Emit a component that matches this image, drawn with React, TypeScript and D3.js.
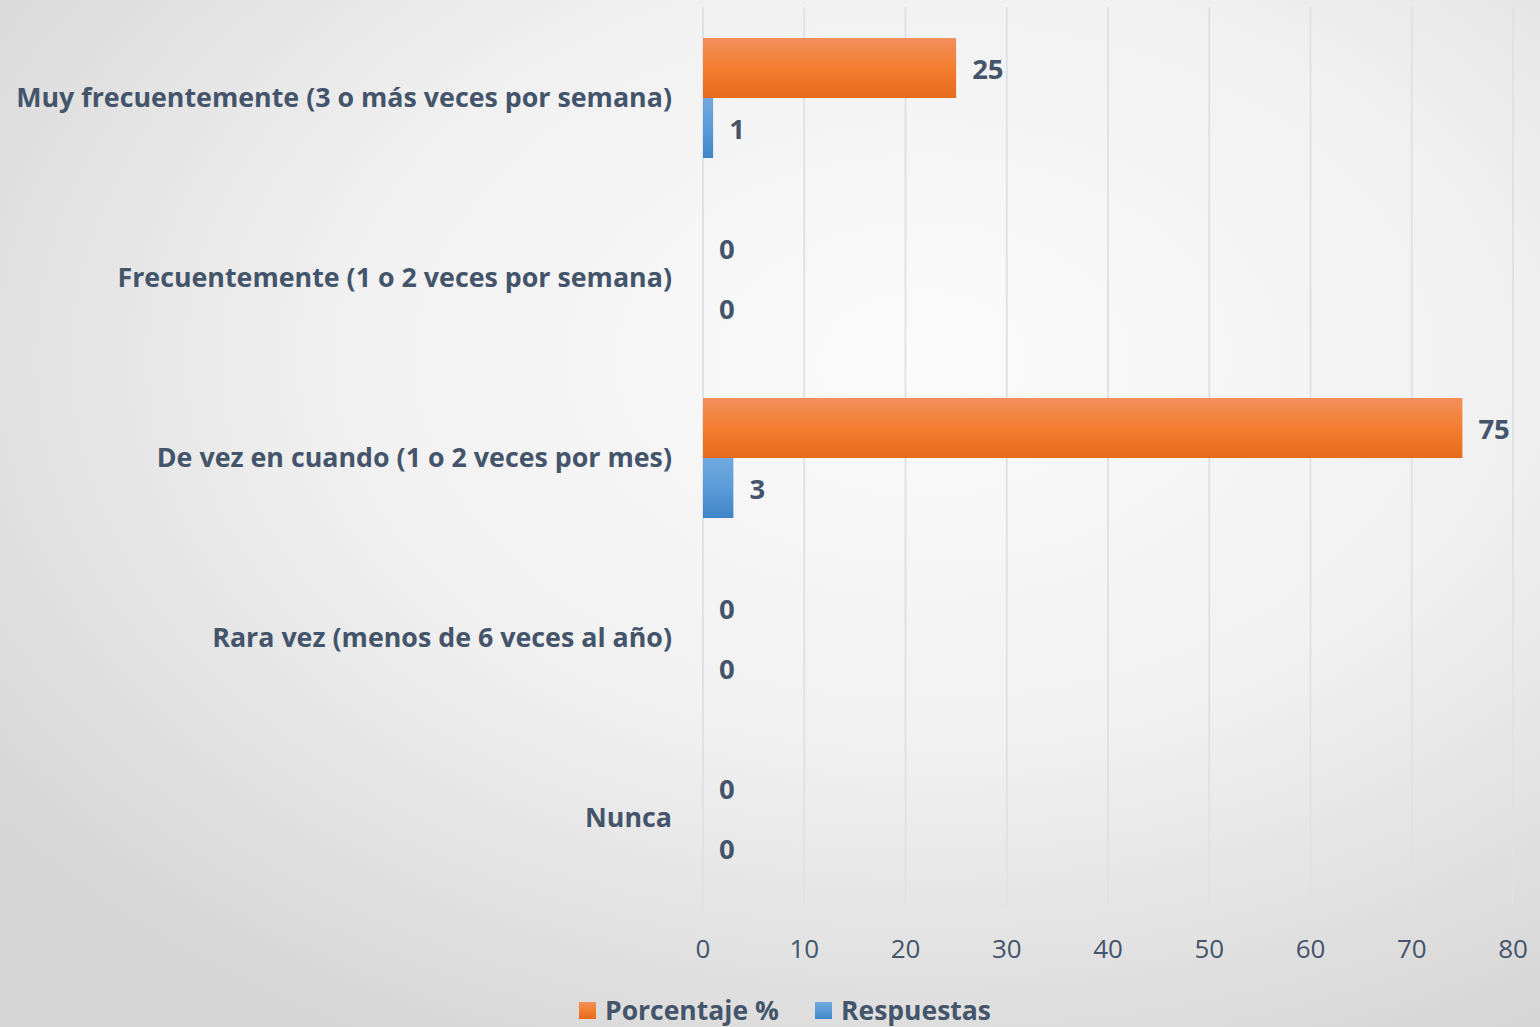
import React from "react";
import * as d3 from "d3";

const categories = [
  "Muy frecuentemente (3 o más veces por semana)",
  "Frecuentemente (1 o 2 veces por semana)",
  "De vez en cuando (1 o 2 veces por mes)",
  "Rara vez (menos de 6 veces al año)",
  "Nunca",
];
const seriesNames = ["Porcentaje %", "Respuestas"];
const porcentaje = [25, 0, 75, 0, 0];
const respuestas = [1, 0, 3, 0, 0];
const xTicks = [0, 10, 20, 30, 40, 50, 60, 70, 80];

const W = 1540;
const H = 1027;
const FONT = "'Open Sans', sans-serif";
const TEXT = "#44546A";

export default function App() {
  React.useEffect(() => {
    document.body.style.margin = "0";
  }, []);
  const x = d3.scaleLinear().domain([0, 80]).range([703, 1513]);
  const y = d3.scaleBand<string>().domain(categories).range([8, 908]).paddingInner(1 / 3).paddingOuter(1 / 6);
  const sub = d3.scaleBand<string>().domain(seriesNames).range([0, y.bandwidth()]);
  const series = [
    { name: seriesNames[0], values: porcentaje, fill: "url(#gOrange)" },
    { name: seriesNames[1], values: respuestas, fill: "url(#gBlue)" },
  ];
  return (
    <svg width={W} height={H} style={{ display: "block" }} fontFamily={FONT}>
      <defs>
        <radialGradient id="bg" cx="0.6" cy="0.35" r="0.75">
          <stop offset="0" stopColor="#fbfbfb" />
          <stop offset="0.5" stopColor="#f1f1f1" />
          <stop offset="1" stopColor="#d6d6d6" />
        </radialGradient>
        <linearGradient id="gOrange" x1="0" y1="0" x2="0" y2="1">
          <stop offset="0" stopColor="#F28F5C" />
          <stop offset="0.5" stopColor="#F37E2F" />
          <stop offset="1" stopColor="#E66A1A" />
        </linearGradient>
        <linearGradient id="gBlue" x1="0" y1="0" x2="0" y2="1">
          <stop offset="0" stopColor="#72A9DF" />
          <stop offset="0.5" stopColor="#5A9BD8" />
          <stop offset="1" stopColor="#3F85C6" />
        </linearGradient>
      </defs>
      <rect x={0} y={0} width={W} height={H} fill="url(#bg)" />
      {xTicks.map((t) => (
        <line key={t} x1={x(t)} x2={x(t)} y1={7} y2={907} stroke="#DDE2E9" strokeWidth={2} />
      ))}
      {categories.map((c, i) => (
        <g key={c}>
          {series.map((s) => {
            const v = s.values[i];
            const yy = (y(c) as number) + (sub(s.name) as number);
            return (
              <g key={s.name}>
                <rect x={x(0)} y={yy} width={x(v) - x(0)} height={sub.bandwidth()} fill={s.fill} />
                <text x={x(v) + 16} y={yy + sub.bandwidth() / 2 + 1} dy="0.35em" fontSize={27.5} fontWeight={700} fill={TEXT}>
                  {v}
                </text>
              </g>
            );
          })}
          <text x={672} y={(y(c) as number) + y.bandwidth() / 2} dy="0.35em" textAnchor="end" fontSize={26.8} fontWeight={700} fill={TEXT}>
            {c}
          </text>
        </g>
      ))}
      {xTicks.map((t) => (
        <text key={t} x={x(t)} y={949} dy="0.35em" textAnchor="middle" fontSize={26} fill={TEXT}>
          {t}
        </text>
      ))}
      <g>
        <rect x={579} y={1002} width={17} height={17} fill="url(#gOrange)" />
        <text x={605} y={1011} dy="0.35em" fontSize={26.5} fontWeight={700} fill={TEXT}>{seriesNames[0]}</text>
        <rect x={815} y={1002} width={17} height={17} fill="url(#gBlue)" />
        <text x={841} y={1011} dy="0.35em" fontSize={26.5} fontWeight={700} fill={TEXT}>{seriesNames[1]}</text>
      </g>
    </svg>
  );
}
